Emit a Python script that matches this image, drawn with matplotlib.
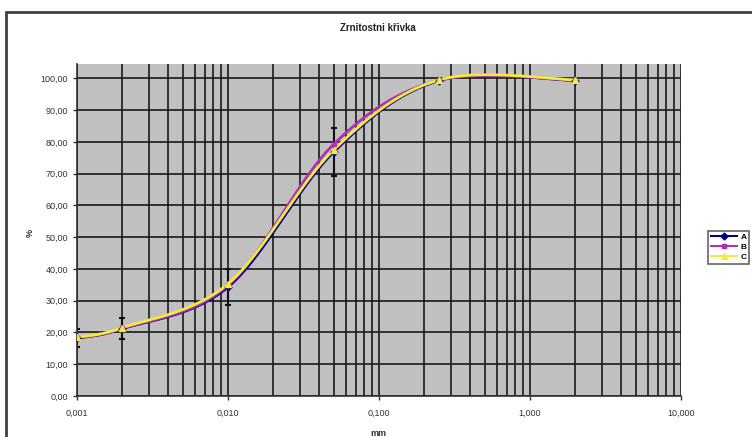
import numpy as np
import matplotlib
matplotlib.use("Agg")
import matplotlib.pyplot as plt
from matplotlib.patches import Rectangle
from matplotlib.ticker import FixedLocator, LogLocator, NullFormatter

plt.rcParams['font.family'] = ['Liberation Sans', 'DejaVu Sans']

# grain size data (mm) and passing percentages for three samples
size_mm = [0.001, 0.002, 0.01, 0.05, 0.25, 2.0]
series_a = [18.2, 21.2, 34.3, 76.8, 99.3, 99.3]
series_b = [18.3, 21.3, 34.8, 79.2, 99.4, 99.4]
series_c = [18.5, 21.5, 35.3, 77.4, 99.5, 99.5]
error_a = [2.8, 3.3, 5.6, 7.4, 0.0, 0.0]

x_ticks = [0.001, 0.01, 0.1, 1.0, 10.0]
x_tick_labels = ["0,001", "0,010", "0,100", "1,000", "10,000"]
y_ticks = list(range(0, 101, 10))


def smooth(xs, ys, n=40):
    # Bezier smoothing like a spreadsheet "smoothed line", done in log-x space
    px = np.log10(xs)
    py = np.asarray(ys, dtype=float)
    m = len(px)
    out_x, out_y = [], []
    t = np.linspace(0, 1, n)
    for i in range(m - 1):
        p0 = np.array([px[i], py[i]])
        p3 = np.array([px[i + 1], py[i + 1]])
        prev = np.array([px[max(i - 1, 0)], py[max(i - 1, 0)]])
        nxt = np.array([px[min(i + 2, m - 1)], py[min(i + 2, m - 1)]])
        c1 = p0 + (p3 - prev) / 6
        c2 = p3 - (nxt - p0) / 6
        b = ((1 - t) ** 3)[:, None] * p0 + (3 * (1 - t) ** 2 * t)[:, None] * c1 \
            + (3 * (1 - t) * t ** 2)[:, None] * c2 + (t ** 3)[:, None] * p3
        out_x.extend(b[:, 0])
        out_y.extend(b[:, 1])
    return 10 ** np.array(out_x), np.array(out_y)


fig = plt.figure(figsize=(7.52, 4.37), dpi=100)
fig.patch.set_facecolor('white')

# chart area border
fig.patches.append(Rectangle((6 / 752, -0.1), 1.2, 1 - 12 / 437 + 0.1,
                             transform=fig.transFigure, fill=False,
                             edgecolor='#404040', linewidth=2))

ax = fig.add_axes([77 / 752, 1 - 396 / 437, (681 - 77) / 752, (396 - 64) / 437])
ax.set_facecolor('#C0C0C0')
ax.set_xscale('log')
ax.set_xlim(0.001, 10)
ax.set_ylim(0, 104.5)

ax.xaxis.set_major_locator(FixedLocator(x_ticks))
ax.set_xticklabels(x_tick_labels)
ax.xaxis.set_minor_locator(LogLocator(base=10, subs=np.arange(2, 10), numticks=20))
ax.xaxis.set_minor_formatter(NullFormatter())
ax.set_yticks(y_ticks)
ax.set_yticklabels([f"{v},00" for v in y_ticks])

ax.grid(True, which='major', axis='both', color='#1a1a1a', linewidth=1.2)
ax.grid(True, which='minor', axis='x', color='#1a1a1a', linewidth=1.2)
ax.set_axisbelow(True)

for side in ['top', 'right']:
    ax.spines[side].set_visible(False)
for side in ['left', 'bottom']:
    ax.spines[side].set_color('#303030')
    ax.spines[side].set_linewidth(1.2)
ax.tick_params(axis='both', which='major', labelsize=6.5, colors='#303030',
               length=3, width=1, labelcolor='#333333')
ax.tick_params(axis='x', which='minor', length=0)
ax.tick_params(axis='x', pad=6)

# series: navy, magenta, yellow smoothed lines with markers
styles = [
    ("A", series_a, '#000080', 'D', 3.5),
    ("B", series_b, '#B030B0', 's', 3.5),
    ("C", series_c, '#F2EA3C', '^', 5),
]
handles = []
for name, ys, col, mk, ms in styles:
    sx, sy = smooth(size_mm, ys)
    ax.plot(sx, sy, color=col, linewidth=2, zorder=3)
    ax.plot(size_mm, ys, linestyle='none', marker=mk, markersize=ms,
            color=col, zorder=4)
    h, = ax.plot([], [], color=col, linewidth=1.5, marker=mk, markersize=ms)
    h.set_label(name)
    handles.append(h)

ax.errorbar(size_mm[:4], series_a[:4], yerr=error_a[:4], fmt='none',
            ecolor='#111111', elinewidth=1.5, capsize=2.5, capthick=1.5, zorder=2)

fig.text(378 / 752, 1 - 28 / 437, "Zrnitostni křivka", ha='center', va='center',
         fontsize=7, fontweight='bold', color='#222222')
fig.text(30 / 752, 1 - 233 / 437, "%", ha='center', va='center', rotation=90,
         fontsize=6.5, fontweight='bold', color='#333333')
fig.text(378 / 752, 1 - 433 / 437, "mm", ha='center', va='center',
         fontsize=6.5, fontweight='bold', color='#333333')

leg = fig.legend(handles=handles, loc='upper left',
                 bbox_to_anchor=(708 / 752, 1 - 231 / 437),
                 fontsize=6, frameon=True, fancybox=False, handlelength=3.2,
                 borderpad=0.3, labelspacing=0.25, handletextpad=0.4,
                 borderaxespad=0)
leg.get_frame().set_edgecolor('#404040')
leg.get_frame().set_linewidth(1.2)
for t in leg.get_texts():
    t.set_fontweight('bold')

fig.savefig("out.png", dpi=100)
